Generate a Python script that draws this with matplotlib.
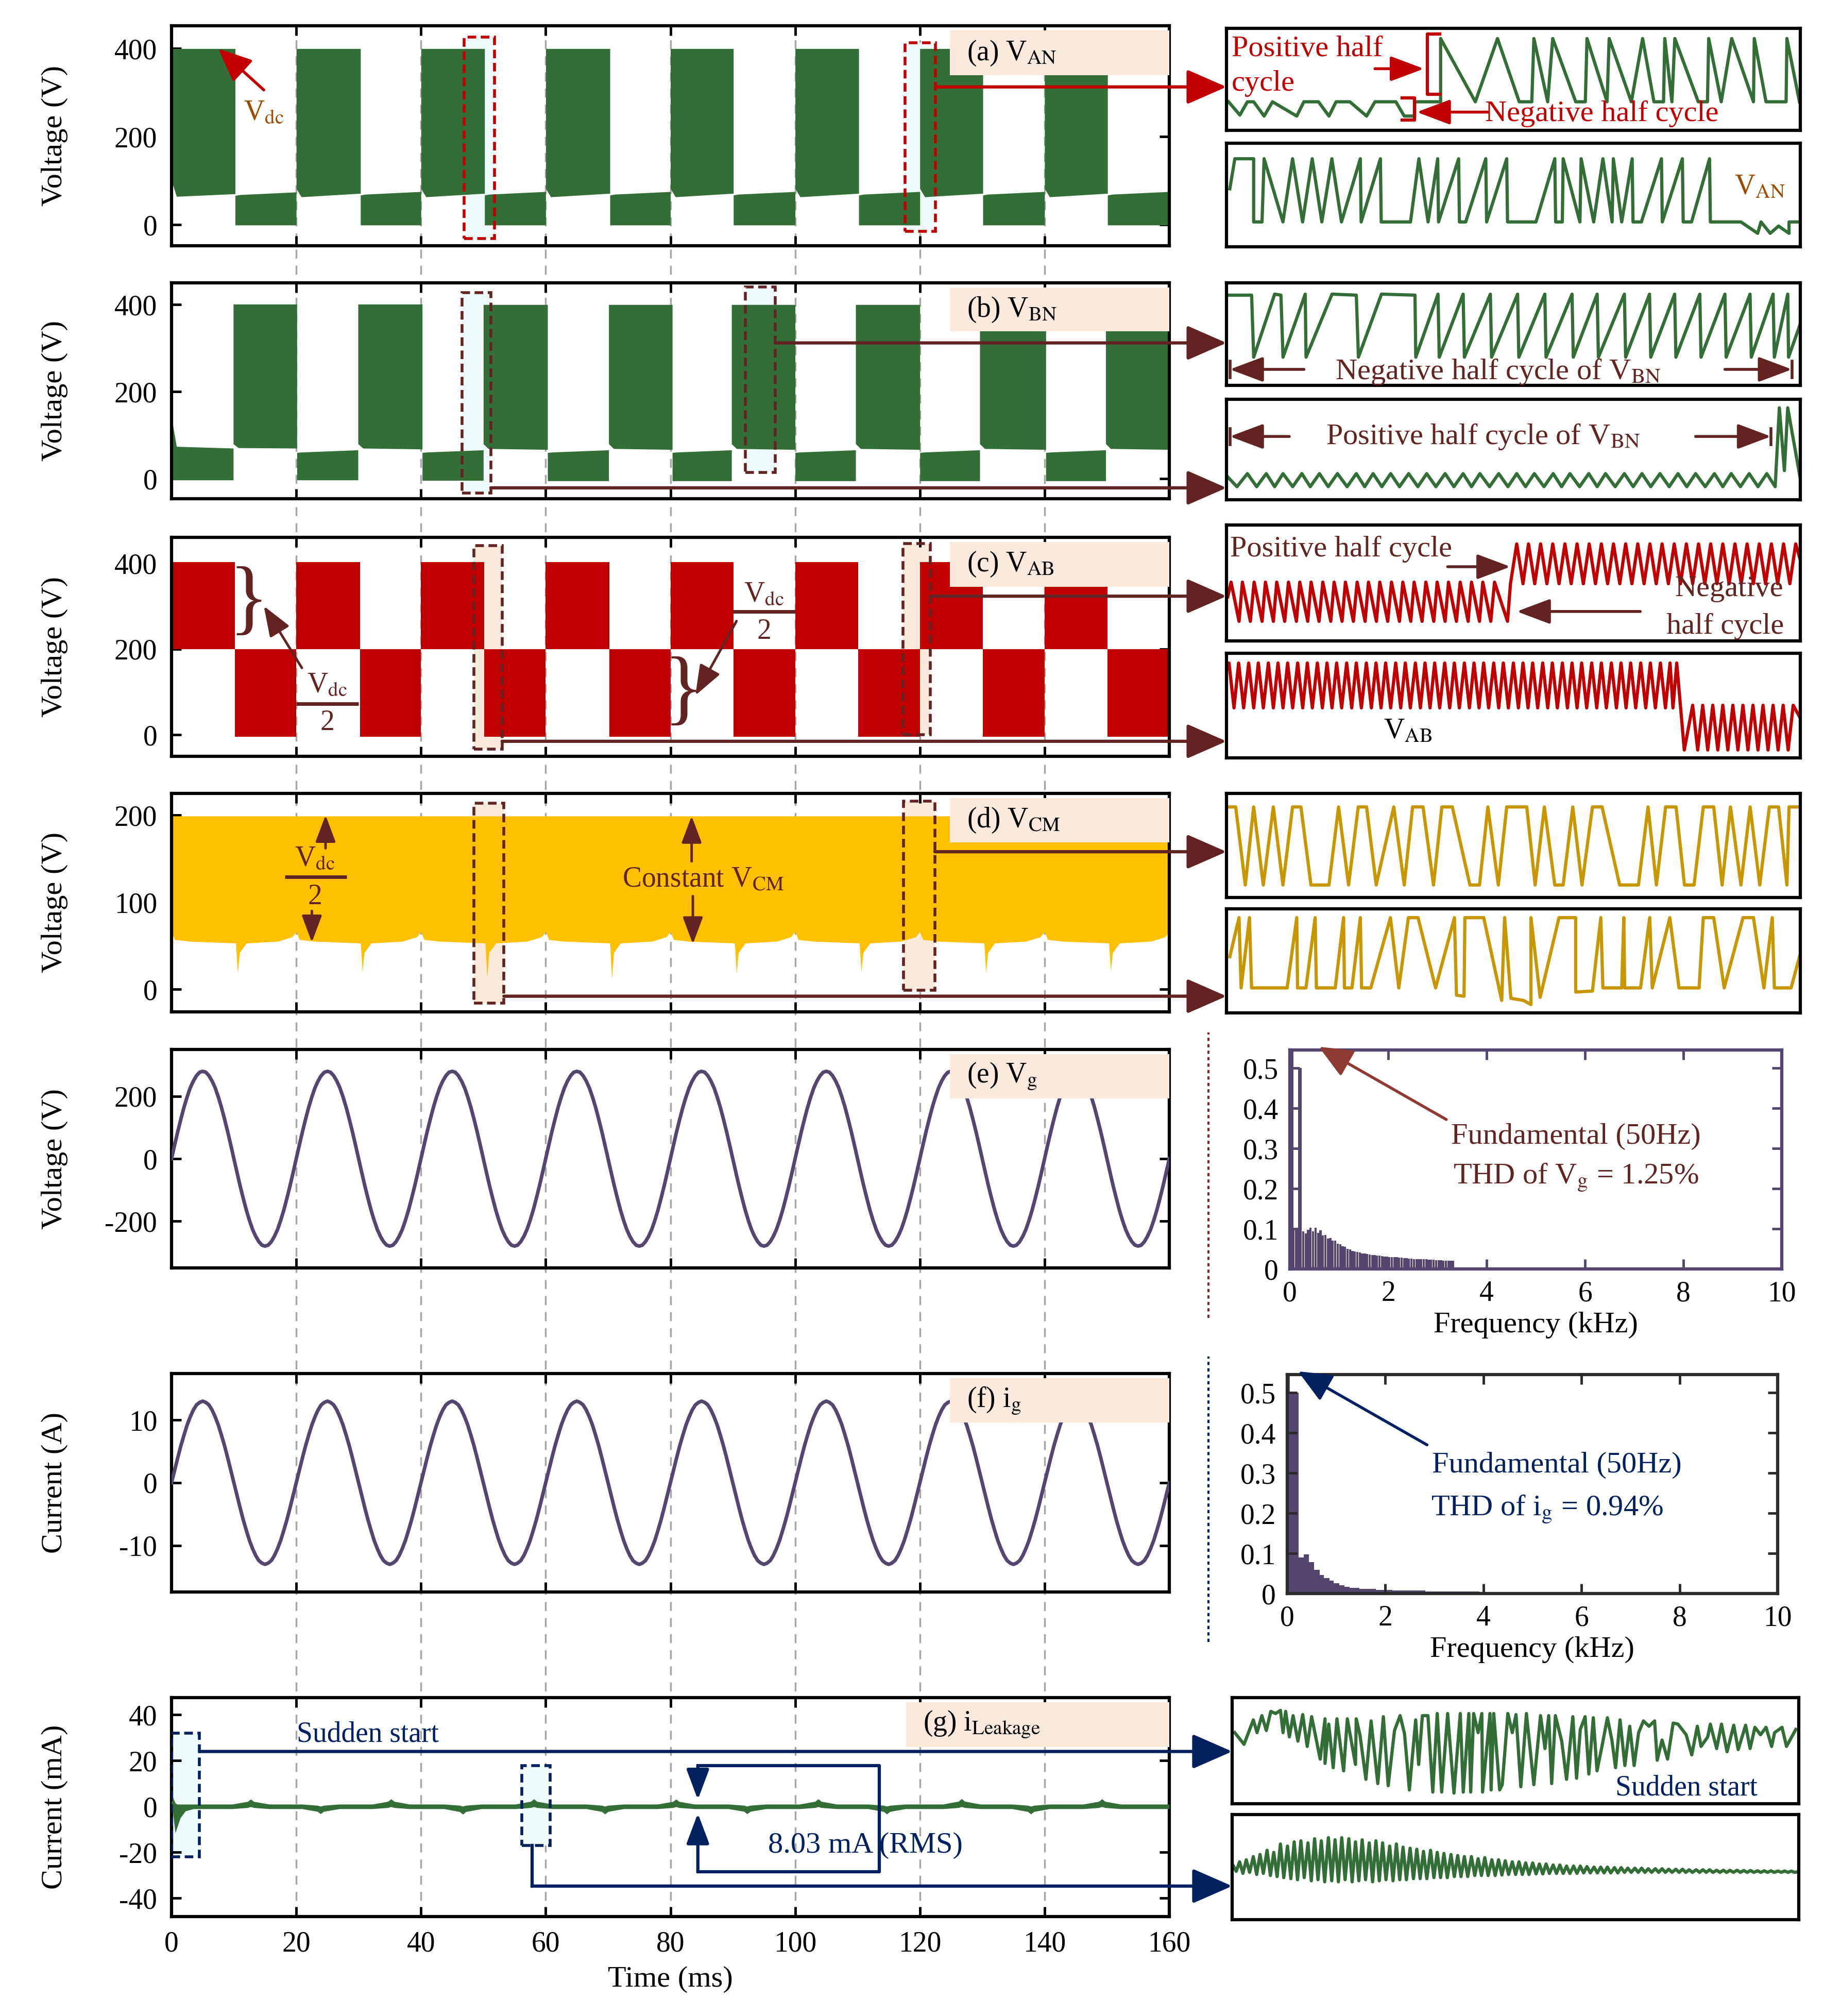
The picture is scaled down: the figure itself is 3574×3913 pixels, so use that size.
import numpy as np
import matplotlib
matplotlib.use("Agg")
import matplotlib.pyplot as plt
from matplotlib.patches import Rectangle, ConnectionPatch
from matplotlib.lines import Line2D
import matplotlib.transforms as mtransforms

plt.rcParams['font.family'] = ['Liberation Serif', 'DejaVu Serif']
plt.rcParams['mathtext.fontset'] = 'stix'
plt.rcParams['axes.unicode_minus'] = False

# ====================== DATA ======================
time_ticks = [0, 20, 40, 60, 80, 100, 120, 140, 160]
grid_times = [20, 40, 60, 80, 100, 120, 140]

# (a) V_AN  PWM bands (segment edges in ms, band edges in V)
van_t = [0, 10.2, 20, 30.3, 40, 50.2, 60, 70.3, 80, 90.1, 100, 110.2, 120, 130.1, 140, 150.1, 160]
van_top_s = [400, 66, 400, 67, 400, 67, 400, 67, 400, 67, 400, 67, 400, 67, 400, 67]
van_top_k = [400, 68, 400, 69, 400, 69, 400, 69, 400, 69, 400, 69, 400, 69, 400, 69]
van_top_e = [400, 74, 400, 75, 400, 75, 400, 75, 400, 75, 400, 75, 400, 75, 400, 75]
van_bot_s = [100, -1, 82, -1, 82, -1, 82, -1, 82, -1, 82, -1, 82, -1, 82, -1]
van_bot_k = [64, -1, 63, -1, 63, -1, 63, -1, 63, -1, 63, -1, 63, -1, 63, -1]
van_bot_e = [70, -1, 71, -1, 71, -1, 71, -1, 71, -1, 71, -1, 71, -1, 71, -1]

# (b) V_BN
vbn_t = [0, 9.9, 20.1, 29.9, 40.2, 50, 60.3, 70.1, 80.3, 89.8, 100, 109.7, 120, 129.6, 140.2, 149.8, 160]
vbn_top_s = [140, 401, 60, 401, 60, 400, 60, 400, 60, 400, 60, 400, 60, 400, 60, 400]
vbn_top_k = [74, 401, 61, 401, 61, 400, 61, 400, 61, 400, 61, 400, 61, 400, 61, 400]
vbn_top_e = [70, 401, 66, 401, 66, 400, 66, 400, 66, 400, 66, 400, 66, 400, 66, 400]
vbn_bot_s = [-3, 80, -3, 80, -4, 80, -5, 80, -5, 80, -5, 80, -5, 80, -5, 80]
vbn_bot_k = [-3, 71, -3, 70, -4, 69, -5, 69, -5, 69, -5, 69, -5, 69, -5, 69]
vbn_bot_e = [-3, 70, -3, 68, -4, 67, -5, 67, -5, 67, -5, 67, -5, 67, -5, 67]

# (c) V_AB
vab_t = [0, 10.2, 20, 30.2, 40, 50.1, 60, 70.2, 80, 90.1, 100, 110.1, 120, 130.1, 140, 150.1, 160]
vab_top = [403, 200, 403, 200, 403, 200, 403, 200, 403, 200, 403, 200, 403, 200, 403, 200]
vab_bot = [200, -4, 200, -4, 200, -4, 200, -4, 200, -4, 200, -4, 200, -4, 200, -4]

# (d) V_CM  band: top level, lower-edge knots per 20 ms period, spike depths
vcm_top = 199
vcm_period_start = [0, 20, 40, 60, 80, 100, 120, 140]
vcm_low_rel_t = [0, 0.5, 3.0, 10.3, 10.6, 10.9, 12.0, 17.0, 19.3, 20.0]
vcm_low_rel_v = [66, 57, 55, 53, None, 42, 53, 55, 60, 66]
vcm_spike_v = [19, 20, 13, 12, 18, 20, 19, 21]

# (e) V_g one cycle sampled every 0.5 ms, (f) i_g one cycle
sample_dt = 0.5
n_cycles = 8
vg_cycle = [0, 44, 87, 127, 165, 198, 227, 249, 266, 277, 280, 277, 266, 249, 227, 198, 165, 127, 87, 44,
            0, -44, -87, -127, -165, -198, -227, -249, -266, -277, -280, -277, -266, -249, -227, -198, -165, -127, -87, -44]
ig_cycle = [0, 2.0, 4.0, 5.9, 7.6, 9.2, 10.5, 11.6, 12.4, 12.8, 13.0, 12.8, 12.4, 11.6, 10.5, 9.2, 7.6, 5.9, 4.0, 2.0,
            0, -2.0, -4.0, -5.9, -7.6, -9.2, -10.5, -11.6, -12.4, -12.8, -13.0, -12.8, -12.4, -11.6, -10.5, -9.2, -7.6, -5.9, -4.0, -2.0]

# (g) leakage current band
ileak_halfwidth = 1.0
ileak_start_t = [0, 0.15, 0.35, 0.6, 0.9, 1.4, 2.2, 3.5]
ileak_start_hi = [0, 4.5, 3.0, 1.5, 1.0, 1.0, 1.0, 1.0]
ileak_start_lo = [0, -0.5, -6, -11.5, -9, -5, -2, -1.0]
ileak_bump_t = [12.7, 23.9, 35.2, 46.7, 58.1, 69.5, 80.9, 92.3, 103.7, 114.7, 126.7, 137.8, 149.2]
ileak_bump_v = [3.2, -3.2, 3.3, -3.4, 3.3, -3.3, 3.2, -3.2, 3.3, -3.3, 3.4, -3.3, 3.3]

# FFT spectra
vg_fft_f = [0.00, 0.05, 0.10, 0.15, 0.17, 0.25, 0.30, 0.35, 0.40, 0.45, 0.50, 0.55, 0.60, 0.65, 0.70, 0.75,
            0.80, 0.85, 0.90, 0.95, 1.00, 1.05, 1.10, 1.15, 1.20, 1.25, 1.30, 1.35, 1.40, 1.45, 1.50, 1.55,
            1.60, 1.65, 1.70, 1.75, 1.80, 1.85, 1.90, 1.95, 2.00, 2.05, 2.10, 2.15, 2.20, 2.25, 2.30, 2.35,
            2.40, 2.45, 2.50, 2.55, 2.60, 2.65, 2.70, 2.75, 2.80, 2.85, 2.90, 2.95, 3.00, 3.05, 3.10, 3.15,
            3.20, 3.25, 3.30]
vg_fft_mag = [0.60, 0.10, 0.10, 0.098, 0.50, 0.094, 0.088, 0.098, 0.103, 0.094, 0.103, 0.090, 0.096, 0.083, 0.085, 0.076,
              0.077, 0.070, 0.070, 0.063, 0.062, 0.056, 0.055, 0.050, 0.049, 0.045, 0.044, 0.042, 0.041, 0.039, 0.038, 0.037,
              0.036, 0.035, 0.034, 0.033, 0.033, 0.032, 0.031, 0.031, 0.030, 0.030, 0.029, 0.029, 0.028, 0.028, 0.027, 0.027,
              0.026, 0.026, 0.025, 0.025, 0.025, 0.024, 0.024, 0.024, 0.023, 0.023, 0.023, 0.022, 0.022, 0.022, 0.021, 0.021,
              0.021, 0.020, 0.020]
ig_fft_edges = [0, 0.05, 0.23, 0.34, 0.44, 0.55, 0.66, 0.75, 0.86, 0.95, 1.06, 1.17, 1.27, 1.47, 1.81, 2.14, 2.81, 3.92]
ig_fft_mag = [0.60, 0.50, 0.090, 0.097, 0.078, 0.059, 0.046, 0.038, 0.032, 0.026, 0.021, 0.017, 0.0135, 0.011, 0.009, 0.0076, 0.005]

# zoomed insets (x: sample position, y: % of inset height)
a1_x = [105, 132, 150, 165, 190, 210, 268, 285, 320, 345, 362, 395, 435, 455, 505, 525, 550, 550, 612, 612,
        695, 748, 800, 830, 835, 868, 880, 935, 958, 962, 1010, 1015, 1068, 1095, 1122, 1145, 1148, 1165, 1172, 1228,
        1250, 1253, 1283, 1308, 1360, 1362, 1390, 1438, 1440, 1470]
a1_y = [28, 15, 28, 28, 14, 28, 14, 28, 28, 14, 28, 28, 14, 28, 28, 14, 14, 28, 28, 90,
        28, 90, 28, 28, 90, 28, 90, 28, 28, 90, 28, 90, 28, 90, 28, 28, 90, 28, 90, 28,
        28, 90, 28, 90, 28, 90, 28, 28, 90, 28]
a2_x = [108, 120, 165, 165, 185, 190, 235, 258, 282, 305, 328, 352, 375, 420, 422, 468, 470, 540, 560, 582,
        605, 607, 655, 657, 672, 720, 722, 770, 772, 840, 885, 887, 903, 905, 945, 948, 978, 1000, 1022, 1025,
        1045, 1070, 1072, 1092, 1140, 1142, 1190, 1192, 1212, 1255, 1257, 1330, 1370, 1378, 1400, 1420, 1445, 1445, 1470]
a2_y = [56, 85, 85, 24, 24, 85, 24, 85, 24, 85, 24, 85, 24, 85, 24, 85, 24, 24, 85, 24,
        85, 24, 85, 24, 24, 85, 24, 85, 24, 24, 85, 24, 24, 85, 24, 85, 24, 85, 24, 85,
        24, 85, 24, 24, 85, 24, 85, 24, 24, 85, 24, 24, 13, 24, 13, 20, 13, 24, 24]
b1_x = [100, 160, 165, 215, 230, 235, 288, 290, 352, 410, 415, 470, 550, 552, 605, 608, 665, 668, 730, 733,
        795, 798, 860, 863, 925, 928, 985, 988, 1050, 1053, 1110, 1113, 1170, 1173, 1230, 1233, 1290, 1293, 1350, 1353,
        1405, 1408, 1440, 1442, 1470]
b1_y = [88, 88, 27.5, 89, 88, 27.5, 89, 27.5, 89, 88, 27.5, 89, 88, 27.5, 89, 27.5, 89, 27.5, 89, 27.5,
        89, 27.5, 89, 27.5, 89, 27.5, 89, 27.5, 89, 27.5, 89, 27.5, 89, 27.5, 89, 27.5, 89, 27.5, 89, 27.5,
        89, 27.5, 89, 27.5, 60]
b2_peak_x = [150, 195, 235, 280, 322, 365, 410, 450, 492, 535, 578, 622, 665, 705, 750, 793, 835, 880, 920, 965,
             1005, 1050, 1092, 1135, 1178, 1220, 1265, 1305, 1348, 1390]
b2_trough_x = [125, 172, 215, 258, 300, 343, 388, 430, 471, 513, 557, 600, 643, 685, 728, 772, 814, 858, 900, 943,
               985, 1028, 1071, 1113, 1157, 1199, 1243, 1285, 1327, 1369, 1410]
b2_levels = (26, 13)
b2_end_x = [1420, 1432, 1440, 1470]
b2_end_y = [91.5, 29, 91.5, 21]

c1_low_peak_x = [108, 135, 163, 190, 217, 245, 272, 299, 327, 354, 381, 409, 436, 463, 491, 518, 545, 573, 600, 627,
                 655, 682, 709, 737]
c1_low_trough_x = [127, 154, 182, 209, 236, 264, 291, 318, 346, 373, 400, 428, 455, 482, 510, 537, 564, 592, 619, 646,
                   674, 701, 728, 768]
c1_low_levels = (50.7, 16.9)
c1_high_peak_x = [790, 818, 847, 876, 905, 934, 963, 992, 1021, 1050, 1079, 1108, 1137, 1166, 1195, 1224, 1253, 1282,
                  1311, 1340, 1369, 1398, 1427, 1456]
c1_high_trough_x = [805, 833, 862, 891, 920, 949, 978, 1007, 1036, 1065, 1094, 1123, 1152, 1181, 1210, 1239, 1268,
                    1297, 1326, 1355, 1384, 1413, 1442]
c1_high_levels = (83.7, 49.3)

c2_high_peak_x = [103, 126, 150, 173, 197, 220, 243, 267, 290, 314, 337, 360, 384, 407, 431, 454, 477, 501, 524, 548,
                  571, 594, 618, 641, 665, 688, 711, 735, 758, 782, 805, 828, 852, 875, 899, 922, 945, 969, 992, 1016,
                  1039, 1062, 1086, 1109, 1133, 1156, 1172]
c2_high_trough_x = [115, 138, 162, 185, 209, 232, 255, 279, 302, 326, 349, 372, 396, 419, 443, 466, 489, 513, 536, 560,
                    583, 606, 630, 653, 677, 700, 723, 747, 770, 794, 817, 840, 864, 887, 911, 934, 957, 981, 1004, 1028,
                    1051, 1074, 1098, 1121, 1145, 1163]
c2_high_levels = (90.7, 47.8)
c2_low_peak_x = [1210, 1234, 1258, 1282, 1306, 1330, 1354, 1378, 1402, 1426, 1450]
c2_low_trough_x = [1190, 1222, 1246, 1270, 1294, 1318, 1342, 1366, 1390, 1414, 1438]
c2_low_levels = (50.3, 7.5)

d1_x = [105, 122, 145, 165, 188, 212, 235, 258, 278, 302, 345, 368, 392, 415, 435, 458, 500, 525, 545, 570,
        595, 615, 640, 682, 705, 725, 750, 770, 795, 818, 838, 860, 885, 905, 928, 950, 975, 998, 1040, 1085,
        1108, 1128, 1150, 1175, 1195, 1218, 1240, 1265, 1285, 1305, 1330, 1352, 1375, 1398, 1420, 1440, 1445, 1467]
d1_y = [87, 87, 12, 87, 12, 87, 12, 87, 87, 12, 12, 87, 12, 87, 87, 12, 87, 12, 87, 87,
        12, 87, 87, 12, 12, 87, 12, 87, 87, 87, 12, 87, 12, 12, 87, 12, 87, 87, 12, 12,
        87, 12, 87, 87, 12, 12, 87, 87, 12, 87, 12, 87, 12, 87, 87, 12, 87, 87]
d2_x = [108, 130, 135, 155, 160, 245, 268, 270, 290, 312, 315, 360, 380, 382, 400, 420, 423, 445, 492, 512,
        535, 558, 600, 645, 650, 668, 670, 715, 758, 765, 780, 810, 828, 828, 850, 895, 935, 935, 975, 995,
        1000, 1045, 1050, 1052, 1090, 1112, 1118, 1160, 1182, 1230, 1240, 1265, 1290, 1335, 1360, 1385, 1405, 1410,
        1450, 1470]
d2_y = [54, 91.5, 24, 91.5, 24, 24, 91.5, 24, 24, 91.5, 24, 24, 91.5, 24, 24, 91.5, 24, 24, 91.5, 24,
        91.5, 91.5, 24, 91.5, 17, 16, 91.5, 91.5, 12, 91.5, 14, 12, 8, 91.5, 15, 91.5, 91.5, 20, 21, 91.5,
        24, 24, 91.5, 24, 24, 91.5, 24, 91.5, 24, 24, 91.5, 91.5, 24, 91.5, 91.5, 24, 91.5, 24,
        24, 54]

g1_x = [25, 50, 75, 85, 98, 110, 122, 135, 148, 155, 162, 172, 182, 195, 208, 220, 232, 255, 268, 268,
        278, 290, 300, 318, 328, 350, 352, 362, 378, 392, 410, 425, 438, 455, 470, 482, 495, 512, 520, 530,
        545, 558, 570, 582, 598, 615, 632, 640, 655, 660, 668, 680, 690, 692, 712, 715, 722, 738, 745, 760,
        772, 782, 795, 810, 830, 848, 860, 870, 878, 888, 905, 918, 935, 945, 955, 968, 978, 990, 1000, 1015,
        1028, 1040, 1050, 1062, 1075, 1088, 1100, 1112, 1125, 1140, 1155, 1162, 1175, 1190, 1205, 1218, 1240, 1255,
        1270, 1280, 1298, 1305, 1322, 1335, 1350, 1368, 1380, 1400, 1412, 1425, 1440, 1455, 1470, 1478, 1498, 1510, 1535]
g1_y = [67, 56, 79, 67, 83, 69, 87, 85, 88, 67, 87, 63, 83, 59, 84, 54, 82, 42, 80, 38,
        75, 34, 80, 31, 80, 37, 80, 65, 23, 78, 19, 82, 17, 69, 83, 66, 13, 79, 37, 83,
        83, 11, 85, 11, 85, 10, 85, 11, 85, 11, 85, 67, 85, 11, 85, 13, 85, 13, 18, 85,
        67, 84, 16, 85, 18, 83, 52, 83, 19, 83, 59, 23, 82, 24, 70, 82, 28, 81, 31, 57,
        81, 60, 34, 79, 36, 73, 36, 67, 78, 73, 78, 41, 60, 42, 76, 75, 65, 46,
        73, 54, 63, 75, 52, 75, 49, 74, 51, 74, 52, 72, 65, 72, 54, 67, 72, 54, 70]
g2_x = [20, 38, 56, 75, 93, 112, 130, 148, 167, 185, 203, 222, 240, 258, 277, 295, 313, 332, 350, 368,
        387, 405, 423, 442, 460, 478, 497, 515, 533, 552, 570, 588, 607, 625, 643, 662, 680, 698, 717, 735,
        753, 772, 790, 808, 827, 845, 863, 882, 900, 918, 937, 955, 973, 992, 1010, 1028, 1047, 1065, 1083, 1102,
        1120, 1138, 1157, 1175, 1193, 1212, 1230, 1248, 1267, 1285, 1303, 1322, 1340, 1358, 1377, 1395, 1413, 1432,
        1450, 1468, 1487, 1505, 1523]
g2_hi = [52, 55, 57, 60, 62, 66, 64, 72, 70, 74, 75, 73, 77, 75, 78, 76, 78, 77, 74, 76,
         73, 75, 73, 70, 72, 69, 68, 67, 65, 66, 64, 63, 62, 61, 60, 60, 58, 59, 57, 57,
         56, 55, 55, 54, 54, 53, 53, 52, 52, 51, 51, 51, 50.5, 50, 50, 50, 49.5, 49.5, 49, 49,
         49, 48.5, 48.5, 48.5, 48, 48, 48, 47.5, 47.5, 47.5, 47.5, 47, 47, 47, 47, 46.8, 46.8, 46.5,
         46.5, 46.5, 46.3, 46.3, 46.2]
g2_lo = [46, 44, 45, 43, 44, 42, 41, 40, 39, 38, 40, 37, 38, 36, 37, 36, 38, 36, 37, 38,
         36, 37, 38, 37, 38, 38, 39, 39, 39, 40, 40, 40, 41, 41, 41, 42, 42, 42, 42, 42.5,
         43, 43, 43, 43, 43.5, 43.5, 44, 44, 44, 44, 44, 44.5, 44.5, 44.5, 44.5, 44.5, 44.5, 45, 45, 45,
         45, 45, 45, 45, 45, 45, 45, 45, 45, 45, 45, 45, 45, 45, 45, 45, 45, 45,
         45, 45, 45, 45, 45]

# ====================== STYLE ======================
GREEN = '#336E37'
RED = '#C00000'
YELLOW = '#FFC000'
GOLD = '#C89600'
BROWN = '#622423'
NAVY = '#002060'
PURPLE = '#54466E'
PEACH = '#FBE9DB'
CYAN = '#EEF9FC'
GREY = '#A6A6A6'
ORANGE = '#9C4A00'
FS = 40

W, H = 3574, 3913
fig = plt.figure(figsize=(W / 100, H / 100), dpi=100)


def rect(x0, y0, x1, y1):
    return [x0 / W, 1 - y1 / H, (x1 - x0) / W, (y1 - y0) / H]


X0, X1 = 333, 2270
rows = [(50, 477), (549, 968), (1043, 1468), (1540, 1964), (2037, 2461), (2666, 3090), (3295, 3720)]


def main_axes(row, ylim, yticks, ylabel):
    ax = fig.add_axes(rect(X0, row[0], X1, row[1]))
    ax.set_facecolor('none')
    ax.set_xlim(0, 160)
    ax.set_ylim(*ylim)
    ax.set_xticks(time_ticks)
    ax.set_yticks(yticks)
    ax.tick_params(direction='in', length=14, width=3.5, top=True, right=True, labelsize=FS, pad=20)
    ax.tick_params(axis='x', labelbottom=False)
    for s in ax.spines.values():
        s.set_linewidth(4.5)
    ax.set_ylabel(ylabel, fontsize=42)
    ax.yaxis.set_label_coords(-0.104, 0.5)
    return ax


def label_box(ax, text, x0=0.78):
    ax.add_patch(Rectangle((x0, 0.775), 1 - x0, 0.203, transform=ax.transAxes, facecolor=PEACH,
                           edgecolor='none', zorder=6))
    ax.text(x0 + 0.017, 0.876, text, transform=ax.transAxes, fontsize=FS, va='center', ha='left', zorder=7)


def dbox(ax, t0, t1, v0, v1, fill, edge):
    ax.add_patch(Rectangle((t0, v0), t1 - t0, v1 - v0, facecolor=fill, edgecolor='none', zorder=1))
    ax.add_patch(Rectangle((t0, v0), t1 - t0, v1 - v0, facecolor='none', edgecolor=edge, lw=4,
                           ls=(0, (3, 1.6)), zorder=5))


def bands(ax, t, top_s, top_k, top_e, bot_s, bot_k, bot_e, color, knee=0.8):
    for i in range(len(t) - 1):
        xs = [t[i], t[i] + knee, t[i + 1]]
        ax.fill_between(xs, [bot_s[i], bot_k[i], bot_e[i]], [top_s[i], top_k[i], top_e[i]],
                        color=color, lw=0, zorder=2)


def link(ax_from, xy, ax_to, color):
    tb = mtransforms.blended_transform_factory(ax_to.transAxes, ax_from.transData)
    cp = ConnectionPatch(xyA=xy, coordsA=ax_from.transData, xyB=(0, xy[1]), coordsB=tb,
                         arrowstyle='-|>,head_length=0.8,head_width=0.35', mutation_scale=60,
                         color=color, lw=4.5, zorder=10)
    fig.add_artist(cp)


def make_inset(x0, y0, x1, y1, xlim):
    ax = fig.add_axes(rect(x0, y0, x1, y1))
    ax.set_xlim(*xlim)
    ax.set_ylim(0, 100)
    ax.set_xticks([])
    ax.set_yticks([])
    for s in ax.spines.values():
        s.set_linewidth(4.5)
    return ax


def iarrow(ax, x_from, x_to, y, color, bar=False):
    ax.annotate('', xy=(x_to, y), xytext=(x_from, y),
                arrowprops=dict(arrowstyle='-|>,head_length=0.8,head_width=0.3', color=color, lw=4,
                                mutation_scale=50, shrinkA=0, shrinkB=0))
    if bar:
        ax.plot([x_to, x_to], [y - 8, y + 8], color=color, lw=4)


def teeth(peaks, troughs, levels):
    pts = sorted([(x, levels[0]) for x in peaks] + [(x, levels[1]) for x in troughs])
    return [p[0] for p in pts], [p[1] for p in pts]


# ====================== MAIN PANELS ======================
ax_a = main_axes(rows[0], (-48, 452), [0, 200, 400], 'Voltage (V)')
ax_b = main_axes(rows[1], (-46, 450), [0, 200, 400], 'Voltage (V)')
ax_c = main_axes(rows[2], (-50, 460), [0, 200, 400], 'Voltage (V)')
ax_d = main_axes(rows[3], (-26, 225), [0, 100, 200], 'Voltage (V)')
ax_e = main_axes(rows[4], (-350, 350), [-200, 0, 200], 'Voltage (V)')
ax_f = main_axes(rows[5], (-17.4, 17.4), [-10, 0, 10], 'Current (A)')
ax_g = main_axes(rows[6], (-48, 47.5), [-40, -20, 0, 20, 40], 'Current (mA)')
ax_g.tick_params(axis='x', labelbottom=True)
ax_g.set_xlabel('Time (ms)', fontsize=42, labelpad=12)

# figure-level dashed time grid
tr = mtransforms.blended_transform_factory(ax_g.transData, fig.transFigure)
for t in grid_times:
    fig.add_artist(Line2D([t, t], [1 - 3720 / H, 1 - 50 / H], transform=tr, color=GREY, lw=2.5,
                          ls=(0, (5, 4)), zorder=-1))

# (a)
bands(ax_a, van_t, van_top_s, van_top_k, van_top_e, van_bot_s, van_bot_k, van_bot_e, GREEN)
dbox(ax_a, 46.9, 51.8, -32, 426, CYAN, RED)
dbox(ax_a, 117.6, 122.5, -15, 413, CYAN, RED)
label_box(ax_a, r'(a) V$_{\rm AN}$')
ax_a.annotate('', xy=(7.5, 400), xytext=(14.8, 306),
              arrowprops=dict(arrowstyle='-|>,head_length=0.8,head_width=0.35', color=RED, lw=4,
                              mutation_scale=50, shrinkA=0, shrinkB=0), zorder=8)
ax_a.text(14.8, 255, r'V$_{\rm dc}$', color=ORANGE, fontsize=FS, ha='center', va='center', zorder=8)

# (b)
bands(ax_b, vbn_t, vbn_top_s, vbn_top_k, vbn_top_e, vbn_bot_s, vbn_bot_k, vbn_bot_e, GREEN)
dbox(ax_b, 46.6, 51.2, -33, 427, CYAN, BROWN)
dbox(ax_b, 92.0, 96.8, 14, 440, CYAN, BROWN)
label_box(ax_b, r'(b) V$_{\rm BN}$')

# (c)
bands(ax_c, vab_t, vab_top, vab_top, vab_top, vab_bot, vab_bot, vab_bot, RED)
dbox(ax_c, 48.5, 53.0, -33, 441, PEACH, BROWN)
dbox(ax_c, 117.3, 121.7, 0, 446, PEACH, BROWN)
label_box(ax_c, r'(c) V$_{\rm AB}$')
ax_c.text(12.4, 305, '}', fontsize=115, color=BROWN, ha='center', va='center', zorder=8)
ax_c.text(82.1, 95, '}', fontsize=115, color=BROWN, ha='center', va='center', zorder=8)
for (xf, yf), (xt, yt) in [((20.9, 156), (14.8, 300)), ((90.6, 265), (84.0, 92))]:
    ax_c.annotate('', xy=(xt, yt), xytext=(xf, yf),
                  arrowprops=dict(arrowstyle='-|>,head_length=0.8,head_width=0.3', color=BROWN, lw=3.5,
                                  mutation_scale=45, shrinkA=0, shrinkB=0), zorder=8)
for tc, vtop, vbar, v2 in [(25, 116, 72, 28), (95, 327, 287, 240)]:
    ax_c.text(tc, vtop, r'V$_{\rm dc}$', color=BROWN, fontsize=FS, ha='center', va='center', zorder=8)
    ax_c.plot([tc - 5, tc + 5], [vbar, vbar], color=BROWN, lw=5, zorder=8, solid_capstyle='butt')
    ax_c.text(tc, v2, '2', color=BROWN, fontsize=FS, ha='center', va='center', zorder=8)

# (d)
vcm_tt, vcm_lo = [], []
for k, p0 in enumerate(vcm_period_start):
    for rt, rv in zip(vcm_low_rel_t, vcm_low_rel_v):
        vcm_tt.append(p0 + rt)
        vcm_lo.append(vcm_spike_v[k] if rv is None else rv)
ax_d.fill_between(vcm_tt, vcm_lo, [vcm_top] * len(vcm_tt), color=YELLOW, lw=0, zorder=2)
dbox(ax_d, 48.5, 53.3, -16, 214, PEACH, BROWN)
dbox(ax_d, 117.4, 122.4, -1, 216, PEACH, BROWN)
label_box(ax_d, r'(d) V$_{\rm CM}$')
ax_d.text(23, 150, r'V$_{\rm dc}$', color=BROWN, fontsize=FS, ha='center', va='center', zorder=8)
ax_d.plot([18.2, 28.1], [129, 129], color=BROWN, lw=5, zorder=8, solid_capstyle='butt')
ax_d.text(23, 106, '2', color=BROWN, fontsize=FS, ha='center', va='center', zorder=8)
ax_d.text(85.2, 126, r'Constant V$_{\rm CM}$', color=BROWN, fontsize=FS, ha='center', va='center', zorder=8)
for x, yf, yt in [(24.7, 162, 200), (22.5, 90, 54), (83.4, 147, 199), (83.6, 107, 52)]:
    ax_d.annotate('', xy=(x, yt), xytext=(x, yf),
                  arrowprops=dict(arrowstyle='-|>,head_length=0.8,head_width=0.3', color=BROWN, lw=3.5,
                                  mutation_scale=40, shrinkA=0, shrinkB=0), zorder=8)

# (e), (f)
t_sine = [i * sample_dt for i in range(len(vg_cycle) * n_cycles + 1)]
vg_series = list(vg_cycle) * n_cycles + [vg_cycle[0]]
ig_series = list(ig_cycle) * n_cycles + [ig_cycle[0]]
ax_e.plot(t_sine, vg_series, color=PURPLE, lw=5, zorder=3)
label_box(ax_e, r'(e) V$_{\rm g}$')
ax_f.plot(t_sine, ig_series, color=PURPLE, lw=5, zorder=3)
label_box(ax_f, r'(f) i$_{\rm g}$')

# (g)
kt = list(ileak_start_t)
khi = list(ileak_start_hi)
klo = list(ileak_start_lo)
hw = ileak_halfwidth
for tb, pk in zip(ileak_bump_t, ileak_bump_v):
    if pk > 0:
        hi = [hw, 0.55 * pk + 0.4, pk, 0.55 * pk + 0.4, hw]
        lo = [-hw, -0.5, -0.1, -0.5, -hw]
    else:
        hi = [hw, 0.5, 0.1, 0.5, hw]
        lo = [-hw, 0.55 * pk - 0.4, pk, 0.55 * pk - 0.4, -hw]
    kt += [tb - 3.0, tb - 0.5, tb, tb + 0.5, tb + 3.0]
    khi += hi
    klo += lo
kt.append(160)
khi.append(hw)
klo.append(-hw)
ax_g.fill_between(kt, klo, khi, color=GREEN, lw=0, zorder=3)
ax_g.plot(kt, [(a + b) / 2 for a, b in zip(khi, klo)], color=GREEN, lw=2, zorder=3)
dbox(ax_g, 0, 4.5, -22, 32, CYAN, NAVY)
dbox(ax_g, 56.2, 60.7, -17, 17.8, CYAN, NAVY)
label_box(ax_g, r'(g) i$_{\rm Leakage}$', x0=0.736)
ax_g.text(31.5, 31.5, 'Sudden start', color=NAVY, fontsize=FS, ha='center', va='center', zorder=8)
ax_g.plot([57.8, 57.8], [-17, -34.7], color=NAVY, lw=4.5, zorder=8)
ax_g.plot([84.4, 113.5, 113.5, 84.4], [17.8, 17.8, -28.4, -28.4], color=NAVY, lw=4.5, zorder=8)
for yf, yt in [(17.8, 3), (-28.4, -3)]:
    ax_g.annotate('', xy=(84.4, yt), xytext=(84.4, yf),
                  arrowprops=dict(arrowstyle='-|>,head_length=0.8,head_width=0.3', color=NAVY, lw=4.5,
                                  mutation_scale=45, shrinkA=0, shrinkB=0), zorder=8)
ax_g.text(111.3, -17, '8.03 mA (RMS)', color=NAVY, fontsize=42, ha='center', va='center', zorder=8)

# ====================== INSETS ======================
IX0, IX1 = 2381, 3495
ia1 = make_inset(IX0, 55, IX1, 253, (100, 1472))
ia1.plot(a1_x, a1_y, color=GREEN, lw=4.5)
ia1.text(112, 80, 'Positive half', color=RED, fontsize=42, ha='left', va='center')
ia1.text(112, 46, 'cycle', color=RED, fontsize=42, ha='left', va='center')
iarrow(ia1, 455, 572, 60.4, RED)
ia1.plot([610, 580, 580, 610], [35.5, 35.5, 94.3, 94.3], color=RED, lw=4.5)
ia1.plot([520, 550, 550, 520], [10, 10, 32, 32], color=RED, lw=4.5)
iarrow(ia1, 725, 555, 17.9, RED)
ia1.text(718, 16, 'Negative half cycle', color=RED, fontsize=42, ha='left', va='center')

ia2 = make_inset(IX0, 278, IX1, 479, (100, 1472))
ia2.plot(a2_x, a2_y, color=GREEN, lw=4.5)
ia2.text(1375, 58, r'V$_{\rm AN}$', color=ORANGE, fontsize=FS, ha='center', va='center')

ib1 = make_inset(IX0, 549, IX1, 748, (100, 1470))
ib1.plot(b1_x, b1_y, color=GREEN, lw=4.5)
ib1.text(748, 13.4, r'Negative half cycle of V$_{\rm BN}$', color=BROWN, fontsize=42, ha='center', va='center')
iarrow(ib1, 285, 108, 15.6, BROWN, bar=True)
iarrow(ib1, 1290, 1450, 15.6, BROWN, bar=True)

ib2 = make_inset(IX0, 775, IX1, 970, (100, 1470))
bx, by = teeth(b2_peak_x, b2_trough_x, b2_levels)
ib2.plot([100] + bx + b2_end_x, [24] + by + b2_end_y, color=GREEN, lw=4.5)
ib2.text(712, 63, r'Positive half cycle of V$_{\rm BN}$', color=BROWN, fontsize=42, ha='center', va='center')
iarrow(ib2, 250, 108, 63, BROWN, bar=True)
iarrow(ib2, 1220, 1400, 63, BROWN, bar=True)

ic1 = make_inset(IX0, 1019, IX1, 1244, (97, 1467))
lx, ly = teeth(c1_low_peak_x, c1_low_trough_x, c1_low_levels)
hx, hy = teeth(c1_high_peak_x, c1_high_trough_x, c1_high_levels)
ic1.plot([100] + lx + [775] + hx + [1467], [38] + ly + [49.3] + hy + [70], color=RED, lw=4.5)
ic1.text(105, 79, 'Positive half cycle', color=BROWN, fontsize=42, ha='left', va='center')
iarrow(ic1, 625, 775, 64, BROWN)
ic1.text(1297, 45, 'Negative', color=BROWN, fontsize=42, ha='center', va='center')
ic1.text(1287, 12.7, 'half cycle', color=BROWN, fontsize=42, ha='center', va='center')
iarrow(ic1, 1085, 790, 25.4, BROWN)

ic2 = make_inset(IX0, 1268, IX1, 1471, (97, 1467))
ux, uy = teeth(c2_high_peak_x, c2_high_trough_x, c2_high_levels)
dx_, dy_ = teeth(c2_low_peak_x, c2_low_trough_x, c2_low_levels)
ic2.plot([98] + ux + dx_ + [1467], [85] + uy + dy_ + [38], color=RED, lw=4.5)
ic2.text(530, 25.5, r'V$_{\rm AB}$', color='black', fontsize=FS, ha='center', va='center')

id1 = make_inset(IX0, 1540, IX1, 1742, (100, 1472))
id1.plot(d1_x, d1_y, color=GOLD, lw=4.5)
id2 = make_inset(IX0, 1764, IX1, 1966, (100, 1472))
id2.plot(d2_x, d2_y, color=GOLD, lw=4.5)

ig1 = make_inset(2392, 3295, 3492, 3501, (18, 1543))
ig1.plot(g1_x, g1_y, color=GREEN, lw=4.5)
ig1.text(1240, 14.6, 'Sudden start', color=NAVY, fontsize=FS, ha='center', va='center')
ig2 = make_inset(2392, 3522, 3492, 3726, (18, 1543))
g2_px, g2_py = [18], [50]
for x, h, l in zip(g2_x, g2_hi, g2_lo):
    g2_px += [x, x + 9]
    g2_py += [h, l]
g2_px.append(1540)
g2_py.append(45.5)
ig2.plot(g2_px, g2_py, color=GREEN, lw=4.5)

# links from zoom boxes to insets
link(ax_a, (122.5, 313), ia1, RED)
link(ax_b, (96.8, 312), ib1, BROWN)
link(ax_b, (51.2, -21), ib2, BROWN)
link(ax_c, (121.7, 323), ic1, BROWN)
link(ax_c, (53.0, -15), ic2, BROWN)
link(ax_d, (122.4, 158), id1, BROWN)
link(ax_d, (53.3, -8), id2, BROWN)
link(ax_g, (4.5, 24), ig1, NAVY)
link(ax_g, (57.8, -34.7), ig2, NAVY)

# ====================== SPECTRA ======================
def spec_axes(x0, y0, x1, y1, spine_color):
    ax = fig.add_axes(rect(x0, y0, x1, y1))
    ax.set_xlim(0, 10)
    ax.set_ylim(0, 0.545)
    ax.set_xticks([0, 2, 4, 6, 8, 10])
    ax.set_xticklabels(['0', '2', '4', '6', '8', '10'])
    ax.set_yticks([0, 0.1, 0.2, 0.3, 0.4, 0.5])
    ax.set_yticklabels(['0', '0.1', '0.2', '0.3', '0.4', '0.5'])
    ax.tick_params(direction='in', length=14, width=3.5, top=True, right=True, labelsize=FS,
                   color=spine_color, pad=16)
    for s in ax.spines.values():
        s.set_linewidth(4.5)
        s.set_edgecolor(spine_color)
    ax.set_xlabel('Frequency (kHz)', fontsize=42, labelpad=6)
    return ax


se = spec_axes(2504, 2038, 3459, 2463, PURPLE)
vg_w = [0.07 if m >= 0.5 else 0.045 for m in vg_fft_mag]
se.bar(vg_fft_f, vg_fft_mag, width=vg_w, align='edge', color=PURPLE, lw=0)
se.annotate('', xy=(0.59, 0.553), xytext=(3.18, 0.372),
            arrowprops=dict(arrowstyle='-|>,head_length=0.8,head_width=0.35', color='#8E3B34', lw=4,
                            mutation_scale=50, shrinkA=0, shrinkB=0), annotation_clip=False)
se.text(5.82, 0.33, 'Fundamental (50Hz)', color=BROWN, fontsize=42, ha='center', va='center')
se.text(5.82, 0.228, r'THD of V$_{\rm g}$ = 1.25%', color=BROWN, fontsize=42, ha='center', va='center')

sf = spec_axes(2499, 2668, 3451, 3093, '#2B2B2B')
ig_w = [b - a for a, b in zip(ig_fft_edges[:-1], ig_fft_edges[1:])]
sf.bar(ig_fft_edges[:-1], ig_fft_mag, width=ig_w, align='edge', color=PURPLE, lw=0)
sf.annotate('', xy=(0.22, 0.553), xytext=(2.85, 0.37),
            arrowprops=dict(arrowstyle='-|>,head_length=0.8,head_width=0.35', color=NAVY, lw=4,
                            mutation_scale=50, shrinkA=0, shrinkB=0), annotation_clip=False)
sf.text(5.5, 0.32, 'Fundamental (50Hz)', color=NAVY, fontsize=42, ha='center', va='center')
sf.text(5.3, 0.21, r'THD of i$_{\rm g}$ = 0.94%', color=NAVY, fontsize=42, ha='center', va='center')

fig.add_artist(Line2D([2346 / W, 2346 / W], [1 - 2558 / H, 1 - 2004 / H], color='#7B2C2C', lw=3,
                      ls=(0, (1.5, 1.5))))
fig.add_artist(Line2D([2346 / W, 2346 / W], [1 - 3187 / H, 1 - 2633 / H], color=NAVY, lw=3,
                      ls=(0, (1.5, 1.5))))

fig.savefig('out.png', dpi=100)
